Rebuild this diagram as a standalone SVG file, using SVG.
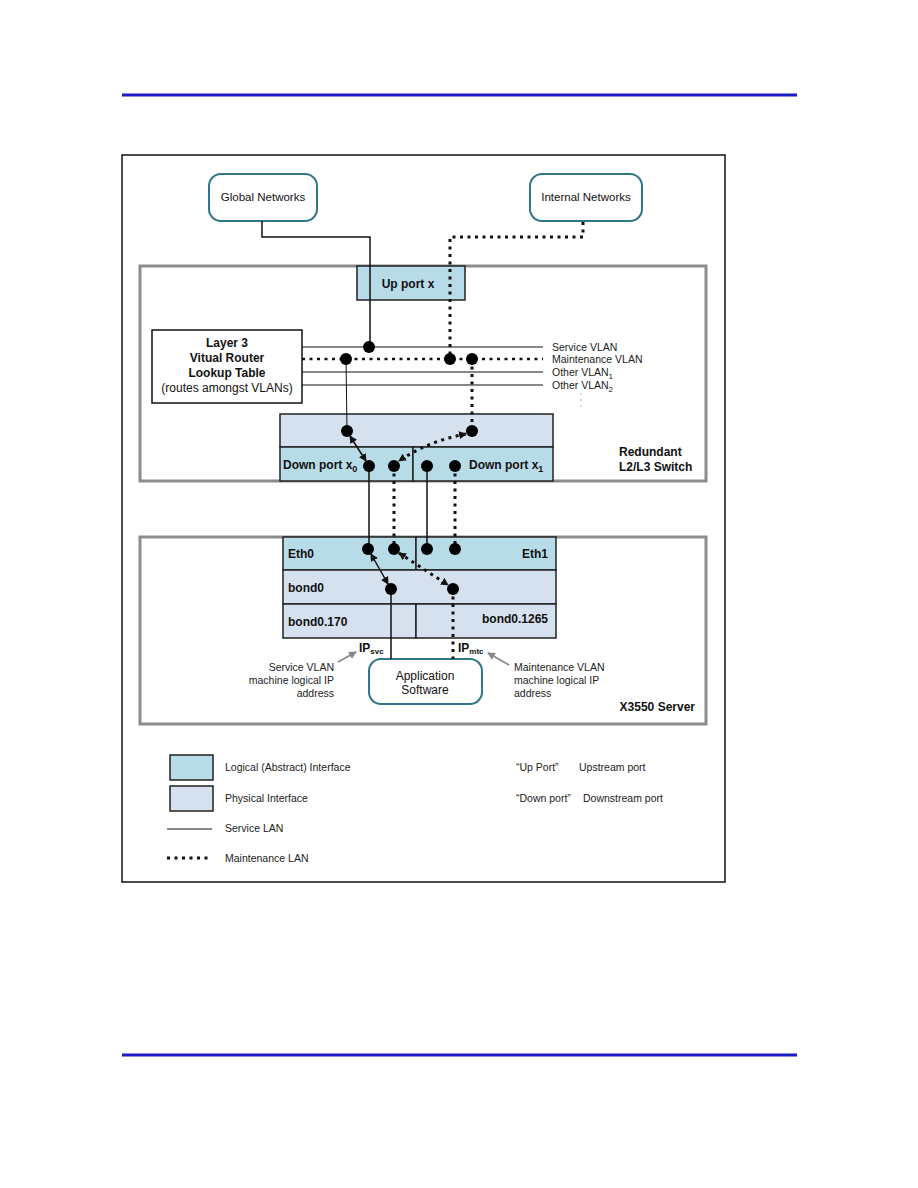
<svg xmlns="http://www.w3.org/2000/svg" width="918" height="1188" viewBox="0 0 918 1188">
<style>
text{font-family:"Liberation Sans",Arial,sans-serif;fill:#111}
.b{font-weight:bold;font-size:12px}
.r12{font-size:12px}
.lab{font-size:10.5px;fill:#222}
.net{fill:#fff;stroke:#2f7689;stroke-width:2}
.logical{fill:#b8dbe8;stroke:#222;stroke-width:1.5}
.phys{fill:#d6e1f0;stroke:#222;stroke-width:1.5}
.frame{fill:#fff;stroke:#8c8c8c;stroke-width:3}
.solid{fill:none;stroke:#111;stroke-width:1.5}
.thin{fill:none;stroke:#111;stroke-width:1}
.dot{fill:none;stroke:#111;stroke-width:3;stroke-dasharray:3 4.5}
.jn{fill:#000}
.gray{fill:none;stroke:#888;stroke-width:1.5}
.rule{stroke:#1a1ac8;stroke-width:3}
</style>
<defs>
<marker id="ah" viewBox="0 0 8 8" refX="7" refY="4" markerWidth="8" markerHeight="8" markerUnits="userSpaceOnUse" orient="auto-start-reverse"><path d="M0,0 L8,4 L0,8 z" fill="#111"/></marker>
<marker id="ag" viewBox="0 0 8 8" refX="7" refY="4" markerWidth="8" markerHeight="8" markerUnits="userSpaceOnUse" orient="auto"><path d="M0,0 L8,4 L0,8 z" fill="#888"/></marker>
</defs>
<rect width="918" height="1188" fill="#fff"/>
<line class="rule" x1="122" y1="95" x2="797" y2="95"/>
<line class="rule" x1="122" y1="1055" x2="797" y2="1055"/>
<rect x="122" y="155" width="603" height="727" fill="none" stroke="#111" stroke-width="1.5"/>

<g id="switch">
<rect class="frame" x="140" y="266" width="566" height="215"/>
<text class="b" x="619" y="456">Redundant</text>
<text class="b" x="619" y="471">L2/L3 Switch</text>
</g>
<g id="server">
<rect class="frame" x="140" y="537" width="566" height="187"/>
<text class="b" x="695" y="711" text-anchor="end">X3550 Server</text>
</g>

<g id="global-networks">
<rect class="net" x="209" y="174" width="108" height="47" rx="12"/>
<text x="263" y="201" text-anchor="middle" style="font-size:11.5px">Global Networks</text>
</g>
<g id="internal-networks">
<rect class="net" x="530" y="174" width="112" height="47" rx="12"/>
<text x="586" y="201" text-anchor="middle" style="font-size:11.5px">Internal Networks</text>
</g>
<g id="up-port">
<rect class="logical" x="357" y="266" width="108" height="34"/>
<text class="b" x="408" y="288" text-anchor="middle">Up port x</text>
</g>
<g id="layer3">
<rect x="152" y="330" width="150" height="73" fill="#fff" stroke="#111" stroke-width="1.5"/>
<text class="b" x="227" y="347" text-anchor="middle">Layer 3</text>
<text class="b" x="227" y="362" text-anchor="middle">Vitual Router</text>
<text class="b" x="227" y="377" text-anchor="middle">Lookup Table</text>
<text class="r12" x="227" y="392" text-anchor="middle">(routes amongst VLANs)</text>
</g>
<g id="switch-physical">
<rect class="phys" x="280" y="414" width="273" height="33"/>
</g>
<g id="down-port-x0">
<rect class="logical" x="280" y="447" width="133" height="34"/>
<text class="b" x="283" y="469">Down port x<tspan dy="3" style="font-size:9px">0</tspan></text>
</g>
<g id="down-port-x1">
<rect class="logical" x="413" y="447" width="140" height="34"/>
<text class="b" x="469" y="469">Down port x<tspan dy="3" style="font-size:9px">1</tspan></text>
</g>
<g id="eth0">
<rect class="logical" x="283" y="537" width="133" height="33"/>
<text class="b" x="288" y="558">Eth0</text>
</g>
<g id="eth1">
<rect class="logical" x="416" y="537" width="140" height="33"/>
<text class="b" x="548" y="558" text-anchor="end">Eth1</text>
</g>
<g id="bond0">
<rect class="phys" x="283" y="570" width="273" height="34"/>
<text class="b" x="288" y="592">bond0</text>
</g>
<g id="bond0-170">
<rect class="phys" x="283" y="604" width="133" height="34"/>
<text class="b" x="288" y="626">bond0.170</text>
</g>
<g id="bond0-1265">
<rect class="phys" x="416" y="604" width="140" height="34"/>
<text class="b" x="548" y="623" text-anchor="end">bond0.1265</text>
</g>
<g id="app-software">
<rect class="net" x="369" y="659" width="113" height="45" rx="12"/>
<text class="r12" x="425" y="680" text-anchor="middle">Application</text>
<text class="r12" x="425" y="694" text-anchor="middle">Software</text>
</g>

<g id="vlan-labels">
<text class="lab" x="552" y="351">Service VLAN</text>
<text class="lab" x="552" y="363">Maintenance VLAN</text>
<text class="lab" x="552" y="376">Other VLAN<tspan dy="3" style="font-size:8px">1</tspan></text>
<text class="lab" x="552" y="389">Other VLAN<tspan dy="3" style="font-size:8px">2</tspan></text>
<circle cx="581" cy="394" r="0.7" fill="#999"/>
<circle cx="581" cy="400" r="0.7" fill="#999"/>
<circle cx="581" cy="406" r="0.7" fill="#999"/>
</g>

<g id="connectors">
<path class="solid" d="M262,221 V237 H370 V347"/>
<path class="dot" d="M583,222 V237 H450 V359"/>
<line class="thin" x1="302" y1="347" x2="543" y2="347"/>
<line class="dot" x1="302" y1="359" x2="543" y2="359" style="stroke-width:2.5"/>
<line class="thin" x1="302" y1="372" x2="543" y2="372"/>
<line class="thin" x1="302" y1="385" x2="543" y2="385"/>
<line class="thin" x1="346" y1="359" x2="347" y2="431"/>
<line class="dot" x1="472" y1="359" x2="472" y2="431"/>
<line class="solid" x1="350" y1="436" x2="366" y2="461" marker-start="url(#ah)" marker-end="url(#ah)"/>
<path class="dot" d="M466,434 Q428,441 399,461" marker-start="url(#ah)" marker-end="url(#ah)"/>
<line class="solid" x1="369" y1="466" x2="369" y2="549"/>
<line class="dot" x1="394" y1="466" x2="394" y2="549"/>
<line class="solid" x1="427" y1="466" x2="427" y2="549"/>
<line class="dot" x1="455" y1="466" x2="455" y2="549"/>
<line class="solid" x1="371" y1="554" x2="388" y2="584" marker-start="url(#ah)" marker-end="url(#ah)"/>
<line class="dot" x1="399" y1="553" x2="448" y2="585" marker-start="url(#ah)" marker-end="url(#ah)"/>
<line class="solid" x1="391" y1="589" x2="391" y2="659"/>
<line class="dot" x1="453" y1="589" x2="453" y2="659"/>
<circle class="jn" cx="369" cy="347" r="6"/>
<circle class="jn" cx="346" cy="359" r="6"/>
<circle class="jn" cx="450" cy="359" r="6"/>
<circle class="jn" cx="472" cy="359" r="6"/>
<circle class="jn" cx="347" cy="431" r="6"/>
<circle class="jn" cx="472" cy="431" r="6"/>
<circle class="jn" cx="369" cy="466" r="6"/>
<circle class="jn" cx="394" cy="466" r="6"/>
<circle class="jn" cx="427" cy="466" r="6"/>
<circle class="jn" cx="455" cy="466" r="6"/>
<circle class="jn" cx="368" cy="549" r="6"/>
<circle class="jn" cx="394" cy="549" r="6"/>
<circle class="jn" cx="427" cy="549" r="6"/>
<circle class="jn" cx="455" cy="549" r="6"/>
<circle class="jn" cx="391" cy="589" r="6"/>
<circle class="jn" cx="453" cy="589" r="6"/>
<line class="gray" x1="338" y1="662" x2="356" y2="652" marker-end="url(#ag)"/>
<line class="gray" x1="509" y1="665" x2="488" y2="653" marker-end="url(#ag)"/>
</g>

<g id="ip-labels">
<text class="b" x="359" y="652">IP<tspan dy="2" style="font-size:8px">svc</tspan></text>
<text class="b" x="458" y="652">IP<tspan dy="2" style="font-size:8px">mtc</tspan></text>
<text class="lab" x="334" y="671" text-anchor="end">Service VLAN</text>
<text class="lab" x="334" y="684" text-anchor="end">machine logical IP</text>
<text class="lab" x="334" y="697" text-anchor="end">address</text>
<text class="lab" x="514" y="671">Maintenance VLAN</text>
<text class="lab" x="514" y="684">machine logical IP</text>
<text class="lab" x="514" y="697">address</text>
</g>

<g id="legend">
<rect class="logical" x="170" y="755" width="43" height="25"/>
<rect class="phys" x="170" y="786" width="43" height="25"/>
<line class="thin" x1="167" y1="829" x2="212" y2="829"/>
<line class="dot" x1="167" y1="858" x2="212" y2="858"/>
<text class="lab" x="225" y="771">Logical (Abstract) Interface</text>
<text class="lab" x="225" y="802">Physical Interface</text>
<text class="lab" x="225" y="832">Service LAN</text>
<text class="lab" x="225" y="862">Maintenance LAN</text>
<text class="lab" x="516" y="771">“Up Port”</text>
<text class="lab" x="579" y="771">Upstream port</text>
<text class="lab" x="516" y="802">“Down port”</text>
<text class="lab" x="583" y="802">Downstream port</text>
</g>
</svg>
